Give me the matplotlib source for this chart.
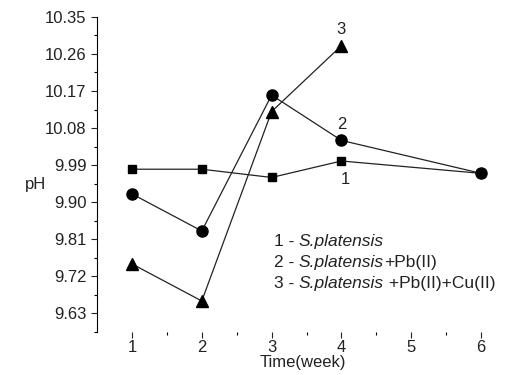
import matplotlib.pyplot as plt
import numpy as np

plt.rcParams['font.family'] = ['Liberation Sans', 'DejaVu Sans']

weeks_1 = [1, 2, 3, 4, 6]
ph_1 = [9.98, 9.98, 9.96, 10.00, 9.97]

weeks_2 = [1, 2, 3, 4, 6]
ph_2 = [9.92, 9.83, 10.16, 10.05, 9.97]

weeks_3 = [1, 2, 3, 4]
ph_3 = [9.75, 9.66, 10.12, 10.28]

yticks = [9.63, 9.72, 9.81, 9.90, 9.99, 10.08, 10.17, 10.26, 10.35]

fig = plt.figure(figsize=(5.11, 3.75), dpi=100)
ax = fig.add_axes([0.19, 0.115, 0.806, 0.84])

line_kw = dict(color='#222222', linewidth=0.9, markeredgecolor='black', markerfacecolor='black')
ax.plot(weeks_1, ph_1, marker='s', markersize=6, **line_kw)
ax.plot(weeks_2, ph_2, marker='o', markersize=8, **line_kw)
ax.plot(weeks_3, ph_3, marker='^', markersize=8.5, **line_kw)

ax.set_xlim(0.5, 6.4)
ax.set_ylim(9.597, 10.35)
ax.set_yticks(yticks)
ax.set_yticklabels(['%.2f' % v for v in yticks])
ax.set_yticks(np.arange(9.63 - 0.045, 10.35, 0.045), minor=True)
ax.set_xticks([1, 2, 3, 4, 5, 6])
ax.set_xticks([1.5, 2.5, 3.5, 4.5, 5.5], minor=True)

for s in ['top', 'right', 'bottom']:
    ax.spines[s].set_visible(False)
ax.spines['left'].set_linewidth(0.8)
ax.tick_params(axis='both', which='major', labelsize=12, colors='#222222', length=4, width=0.8)
ax.tick_params(axis='both', which='minor', length=2, width=0.8)
ax.tick_params(axis='x', pad=2)

ax.set_ylabel('pH', rotation=0, fontsize=12, color='#222222', va='center')
ax.yaxis.set_label_coords(-0.15, 0.467)
ax.set_xlabel('Time(week)', fontsize=12, color='#222222', labelpad=0)

ax.text(4, 10.32, '3', fontsize=12, ha='center', va='center', color='#222222')
ax.text(4, 10.088, '2', fontsize=12, ha='center', va='center', color='#222222')
ax.text(4.05, 9.954, '1', fontsize=12, ha='center', va='center', color='#222222')

# legend text, italic species name in the middle
legend_lines = [
    ('1 - ', 'S.platensis', ''),
    ('2 - ', 'S.platensis', '+Pb(II)'),
    ('3 - ', 'S.platensis', ' +Pb(II)+Cu(II)'),
]
ys = [9.805, 9.753, 9.703]
txt_kw = dict(fontsize=12.5, color='#222222')
for (a, b, c), y in zip(legend_lines, ys):
    t1 = ax.text(3.03, y, a, va='center', ha='left', **txt_kw)
    t2 = ax.annotate(b, xy=(1, 0), xycoords=t1, va='bottom', ha='left',
                     style='italic', **txt_kw)
    if c:
        ax.annotate(c, xy=(1, 0), xycoords=t2, va='bottom', ha='left', **txt_kw)

fig.savefig('out.png', dpi=100)
